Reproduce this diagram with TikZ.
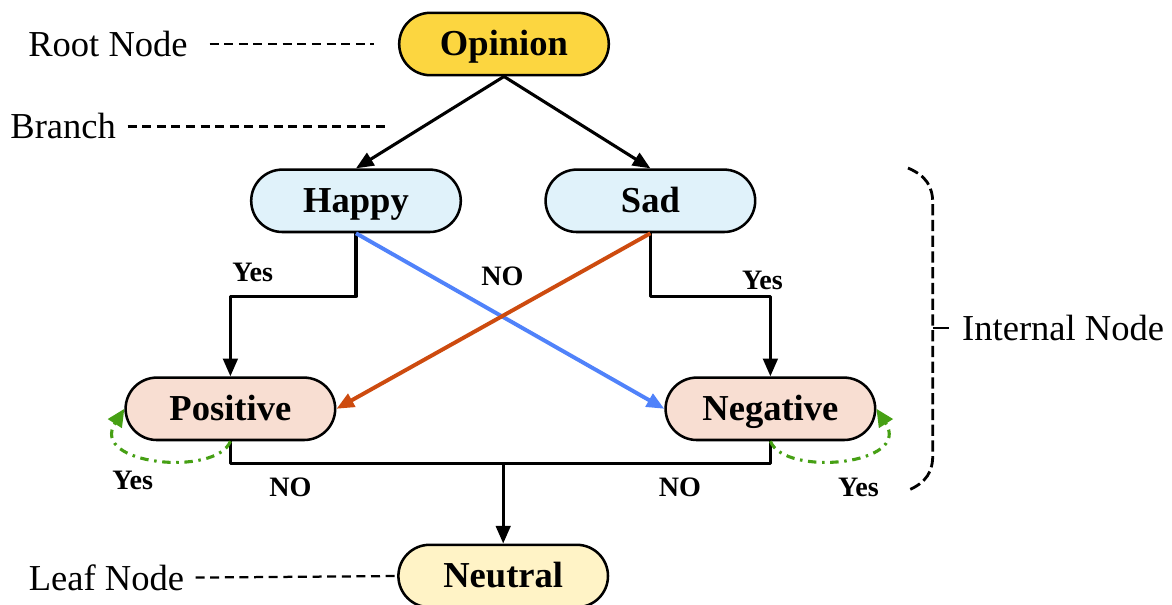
\documentclass[tikz,border=0pt]{standalone}
\usepackage{fontspec}
\setmainfont{Liberation Serif}
\usetikzlibrary{arrows.meta, positioning, calc}
\definecolor{rootyellow}{RGB}{252, 214, 64}
\definecolor{moodblue}{RGB}{224, 242, 250}
\definecolor{classpink}{RGB}{248, 222, 210}
\definecolor{leafyellow}{RGB}{255, 243, 198}
\definecolor{noblue}{RGB}{80, 130, 250}
\definecolor{noorange}{RGB}{205, 75, 15}
\definecolor{loopgreen}{RGB}{70, 160, 20}

\begin{document}
\begin{tikzpicture}[
    pill/.style={draw, line width=0.9pt, rounded corners=0.39cm, inner sep=2pt,
        minimum width=2.62cm, minimum height=0.78cm, text height=1.1em, text depth=0.28em,
        font=\fontsize{13}{15}\selectfont\bfseries},
    flow/.style={line width=1.1pt, line join=round, -{Triangle[length=2.2mm, width=1.8mm]}},
    guide/.style={line width=0.8pt, dash pattern=on 3.2pt off 2pt},
    selfloop/.style={loopgreen, line width=1.1pt, dash pattern=on 3pt off 2pt on 0.9pt off 2pt,
        -{Triangle[length=2.2mm, width=2mm]}},
    lbl/.style={font=\fontsize{13}{15}\selectfont},
    ans/.style={font=\fontsize{10}{12}\selectfont\bfseries}
]
    \useasboundingbox (0,0) rectangle (14.65,-7.55);

    % Tree nodes
    \node[pill, fill=rootyellow] (opinion) at (6.3,-0.55) {Opinion};
    \node[pill, fill=moodblue] (happy) at (4.45,-2.51) {Happy};
    \node[pill, fill=moodblue] (sad) at (8.13,-2.51) {Sad};
    \node[pill, fill=classpink] (positive) at (2.88,-5.11) {Positive};
    \node[pill, fill=classpink] (negative) at (9.63,-5.11) {Negative};
    \node[pill, fill=leafyellow] (neutral) at (6.29,-7.2) {Neutral};

    % Branches from the root
    \draw[flow] (opinion.south) -- (happy.north);
    \draw[flow] (opinion.south) -- (sad.north);

    % Yes branches
    \draw[flow] (happy.south) -- ++(0,-0.79) -| (positive.north);
    \draw[flow] (sad.south) -- ++(0,-0.79) -| (negative.north);
    \node[ans] (yesh) at (3.16,-3.4) {Yes};
    \node[ans] (yess) at (9.53,-3.5) {Yes};

    % NO branches
    \draw[flow, noblue, line width=1.4pt] (happy.south) -- (negative.west);
    \draw[flow, noorange, line width=1.4pt] (sad.south) -- (positive.east);
    \node[ans] (nomid) at (6.28,-3.46) {NO};

    % Down to the leaf
    \draw[line width=1.1pt, line join=round] (positive.south) -- ++(0,-0.28) coordinate (bus) -| (negative.south);
    \draw[flow] (bus -| neutral.north) -- (neutral.north);
    \node[ans] (nop) at (3.63,-6.09) {NO};
    \node[ans] (non) at (8.5,-6.09) {NO};

    % Self loops
    \draw[selfloop] (positive.south) .. controls +(-0.18,-0.45) and +(-0.45,-0.7) .. (positive.west);
    \draw[selfloop] (negative.south) .. controls +(0.18,-0.45) and +(0.45,-0.7) .. (negative.east);
    \node[ans] (yesp) at (1.66,-6.01) {Yes};
    \node[ans] (yesn) at (10.73,-6.09) {Yes};

    % Legend on the left
    \node[lbl] (rootlbl) at (1.35,-0.55) {Root Node};
    \node[lbl] (branchlbl) at (0.79,-1.58) {Branch};
    \node[lbl] (leaflbl) at (1.33,-7.22) {Leaf Node};
    \coordinate (branchend) at (4.88,-1.58);
    \draw[guide, shorten <=0.15cm, shorten >=0.3cm] (rootlbl.east) -- (opinion.west);
    \draw[guide, shorten <=0.02cm] (branchlbl.east) -- (branchend);
    \draw[guide, shorten <=0.02cm] (leaflbl.east) -- (neutral.west);

    % Internal node bracket
    \draw[line width=1pt, dash pattern=on 4pt off 1.6pt]
        (11.35,-2.1) .. controls (11.58,-2.2) and (11.66,-2.33) .. (11.66,-2.55)
        -- (11.66,-5.68) .. controls (11.66,-5.9) and (11.58,-6.03) .. (11.35,-6.13);
    \node[lbl, anchor=west, inner sep=0pt] (intlbl) at (12.02,-4.1) {Internal Node};
    \draw[line width=1pt] (11.66,-4.1) -- (11.86,-4.1);
\end{tikzpicture}
\end{document}
